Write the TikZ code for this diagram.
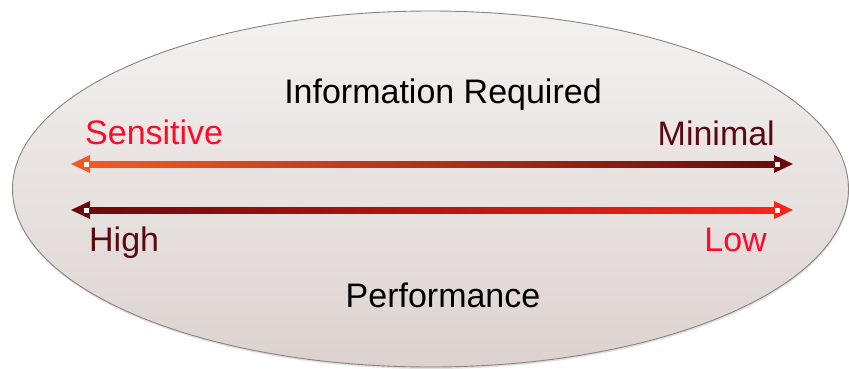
\documentclass[tikz,border=0pt]{standalone}
\usepackage{fontspec}
\setmainfont{Liberation Sans}
\usetikzlibrary{calc}
\definecolor{ellbord}{HTML}{8C8280}
\definecolor{elltop}{HTML}{F3F1F0}
\definecolor{ellbot}{HTML}{DCD3D0}
\definecolor{txtred}{HTML}{FF0A28}
\definecolor{txtdark}{HTML}{5A0812}
\definecolor{arrorange}{HTML}{F35A22}
\definecolor{arrdark}{HTML}{6A0A0A}
\definecolor{arrbright}{HTML}{F8261A}
\tikzset{
  lbl/.style={inner sep=0pt, font=\fontsize{34}{40}\selectfont},
  headtip/.style={line join=miter},
}
\begin{document}
\begin{tikzpicture}[x=1pt,y=-1pt]
\useasboundingbox (0,0) rectangle (849,369);
% shadow and ellipse
\fill[black!12] (431,191) ellipse [x radius=418, y radius=178];
\shade[top color=elltop, bottom color=ellbot, draw=ellbord, line width=0.9pt]
  (430.5,189) ellipse [x radius=418, y radius=178];
% texts
\node[lbl, anchor=base] (info) at (443,103) {Information Required};
\node[lbl, anchor=base west, text=txtred] (sens) at (85,144) {Sensitive};
\node[lbl, anchor=base east, text=txtdark] (mini) at (775,145) {Minimal};
\node[lbl, anchor=base west, text=txtdark] (high) at (89,251) {High};
\node[lbl, anchor=base east, text=txtred] (low) at (767,251) {Low};
\node[lbl, anchor=base] (perf) at (443,307) {Performance};
% arrow ends
\coordinate (aL) at (71,164);
\coordinate (aR) at (793,164);
\coordinate (bL) at (71,210);
\coordinate (bR) at (793,210);
% top arrow
\shade[left color=arrorange, right color=arrdark]
  ($(aL)+(17,-3)$) rectangle ($(aR)+(-17,3)$);
\fill[arrorange, headtip] (aL) -- ($(aL)+(19,-9)$) -- ($(aL)+(19,9)$) -- cycle;
\fill[arrdark, headtip] (aR) -- ($(aR)+(-19,-9)$) -- ($(aR)+(-19,9)$) -- cycle;
\fill[white] ($(aL)+(13,-2.5)$) rectangle ($(aL)+(18,2.5)$);
\fill[white] ($(aR)+(-13,-2.5)$) rectangle ($(aR)+(-18,2.5)$);
% bottom arrow
\shade[left color=arrdark, right color=arrbright]
  ($(bL)+(17,-3)$) rectangle ($(bR)+(-17,3)$);
\fill[arrdark, headtip] (bL) -- ($(bL)+(19,-9)$) -- ($(bL)+(19,9)$) -- cycle;
\fill[arrbright, headtip] (bR) -- ($(bR)+(-19,-9)$) -- ($(bR)+(-19,9)$) -- cycle;
\fill[white] ($(bL)+(13,-2.5)$) rectangle ($(bL)+(18,2.5)$);
\fill[white] ($(bR)+(-13,-2.5)$) rectangle ($(bR)+(-18,2.5)$);
\end{tikzpicture}
\end{document}
